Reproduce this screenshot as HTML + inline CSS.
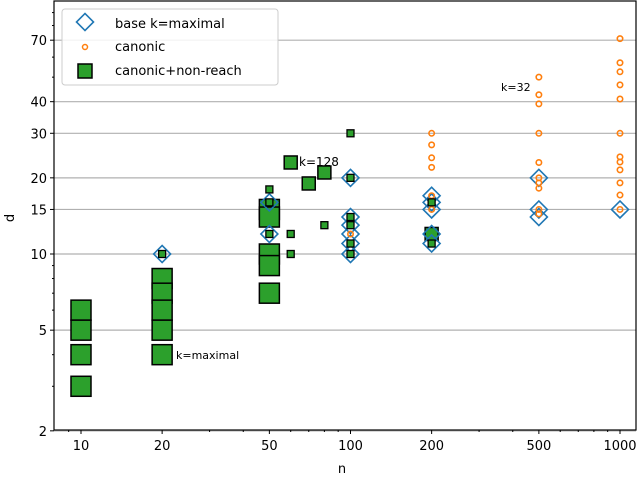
<!DOCTYPE html>
<html><head><meta charset="utf-8"><style>
body{margin:0;background:#fff;}
svg{display:block;font-family:"DejaVu Sans","Liberation Sans",sans-serif;}
</style></head><body>
<svg id="chart" width="640" height="478" viewBox="0 0 640 478" xmlns="http://www.w3.org/2000/svg">
<g id="grid"></g>
<g id="marks"></g>
<g id="axes"></g>
<text x="10" y="222" font-size="13" text-anchor="middle" transform="rotate(-90 10 218)">d</text>
<text x="342" y="473" font-size="13" text-anchor="middle">n</text>
<text x="176" y="359" font-size="11">k=maximal</text>
<text x="299" y="166" font-size="12">k=128</text>
<text x="501" y="91" font-size="11">k=32</text>
<g>
<rect x="62" y="9" width="216" height="76" rx="3" fill="#fff" fill-opacity="0.85" stroke="#ccc"/>
<rect x="79" y="16" width="12" height="12" fill="none" stroke="#1f77b4" stroke-width="1.6" transform="rotate(45 85 22)"/>
<text x="115" y="28" font-size="13">base k=maximal</text>
<circle cx="85" cy="47" r="2.5" fill="none" stroke="#ff7f0e" stroke-width="1.5"/>
<text x="115" y="51" font-size="13">canonic</text>
<rect x="78" y="64" width="14" height="14" fill="#2ca02c" stroke="#000" stroke-width="1.5"/>
<text x="115" y="75" font-size="13">canonic+non-reach</text>
</g>
</svg>
<script>
const xTicks=[10,20,50,100,200,500,1000];
const yTicks=[2,5,10,15,20,30,40,70];
const baseN=[20,50,50,100,100,100,100,100,100,200,200,200,200,200,500,500,500,1000];
const baseD=[10,16,12,20,14,13,12,11,10,17,16,15,12,11,20,15,14,15];
const canonN=[100,200,200,200,200,200,200,500,500,500,500,500,500,500,500,500,500,1000,1000,1000,1000,1000,1000,1000,1000,1000,1000,1000,1000];
const canonD=[12,30,27,24,22,17,15,50,42.6,39.2,30,23,20,19.1,18.2,15,14.4,71,57,52.5,46.6,41,30,24.2,23.1,21.5,19.1,17.1,15];
const bigN=[10,10,10,10,20,20,20,20,20,50,50,50,50,50];
const bigD=[6,5,4,3,8,7,6,5,4,15,14,10,9,7];
const medN=[60,70,80,200];
const medD=[23,19,21,12];
const smallN=[20,50,50,50,60,60,80,100,100,100,100,100,100,200,200];
const smallD=[10,18,16,12,12,10,13,30,20,14,13,11,10,16,11];
const L=54,R=636,T=1,B=430;
const X=v=>81+269.5*(Math.log10(v)-1);
const Y=v=>254-253*(Math.log10(v)-1);
const NS='http://www.w3.org/2000/svg';
function mk(t,a,p){const e=document.createElementNS(NS,t);for(const k in a)e.setAttribute(k,a[k]);p.appendChild(e);return e;}
const grid=document.getElementById('grid'),marks=document.getElementById('marks'),axes=document.getElementById('axes');
yTicks.forEach(v=>{const g=mk('line',{x1:L,x2:R,y1:Y(v),y2:Y(v),stroke:'#b0b0b0','stroke-width':1.2},grid);

});
mk('rect',{x:L,y:T,width:R-L,height:B-T,fill:'none',stroke:'#000','stroke-width':1.2},axes);
yTicks.forEach(v=>{mk('line',{x1:L-4,x2:L,y1:Y(v),y2:Y(v),stroke:'#000'},axes);
const t=mk('text',{x:L-7,y:Y(v)+5,'font-size':13,'text-anchor':'end'},axes);t.textContent=v;

});
[3,4,6,7,8,9,50,60,80,90].forEach(v=>mk('line',{x1:L-2,x2:L,y1:Y(v),y2:Y(v),stroke:'#000'},axes));
xTicks.forEach(v=>{mk('line',{x1:X(v),x2:X(v),y1:B,y2:B+4,stroke:'#000'},axes);
const t=mk('text',{x:X(v),y:B+20,'font-size':13,'text-anchor':'middle'},axes);t.textContent=v;

});
[9,30,40,60,70,80,90,300,400,600,700,800,900].forEach(v=>mk('line',{x1:X(v),x2:X(v),y1:B,y2:B+2,stroke:'#000'},axes));
bigN.forEach((n,i)=>{const e=mk('rect',{x:X(n)-10,y:Y(bigD[i])-10,width:20,height:20,fill:'#2ca02c',stroke:'#000','stroke-width':1.5},marks);

});
medN.forEach((n,i)=>{const e=mk('rect',{x:X(n)-6.5,y:Y(medD[i])-6.5,width:13,height:13,fill:'#2ca02c',stroke:'#000','stroke-width':1.5},marks);

});
baseN.forEach((n,i)=>{const x=X(n),y=Y(baseD[i]);const e=mk('rect',{x:x-6,y:y-6,width:12,height:12,fill:'none',stroke:'#1f77b4','stroke-width':1.6,transform:`rotate(45 ${x} ${y})`},marks);

});
canonN.forEach((n,i)=>{const e=mk('circle',{cx:X(n),cy:Y(canonD[i]),r:2.7,fill:'none',stroke:'#ff7f0e','stroke-width':1.6},marks);

});
smallN.forEach((n,i)=>{const e=mk('rect',{x:X(n)-3.5,y:Y(smallD[i])-3.5,width:7,height:7,fill:'#2ca02c',stroke:'#000','stroke-width':1.3},marks);

});
</script>
</body></html>
